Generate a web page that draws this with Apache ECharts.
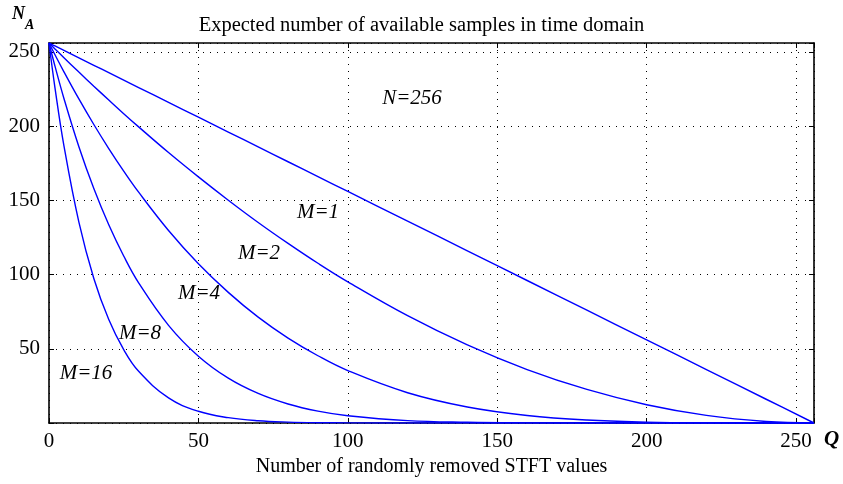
<!DOCTYPE html>
<html>
<head>
<meta charset="utf-8">
<script src="https://cdn.jsdelivr.net/npm/echarts@6/dist/echarts.min.js"></script>
<style>
  html, body { margin: 0; padding: 0; background: #fff; }
  #chart { width: 843px; height: 484px; }
</style>
</head>
<body>
<div id="chart"></div>
<script>
// number of removed STFT values (Q)
const qValues = [0, 2, 5, 10, 15, 20, 25, 30, 40, 50, 60, 70, 80, 90, 100, 120, 140, 160, 180, 200, 220, 240, 256]

// expected available samples N_A
const m1Values = [256, 254, 251, 246, 241, 236, 231, 226, 216, 206, 196, 186, 176, 166, 156, 136, 116, 96, 76, 56, 36, 16, 0]
const m2Values = [256, 252, 246.1, 236.4, 226.9, 217.6, 208.4, 199.5, 182.2, 165.8, 150.1, 135.1, 121, 107.6, 95.1, 72.3, 52.6, 36, 22.6, 12.3, 5.1, 1, 0]
const m4Values = [256, 248.1, 236.6, 218.3, 201.1, 184.9, 169.7, 155.5, 129.7, 107.3, 88, 71.3, 57.2, 45.3, 35.3, 20.4, 10.8, 5.1, 2, 0.6, 0.1, 0, 0]
const m8Values = [256, 240.4, 218.6, 186.1, 157.9, 133.5, 112.5, 94.4, 65.8, 45, 30.2, 19.9, 12.8, 8, 4.9, 1.6, 0.5, 0.1, 0, 0, 0, 0, 0]
const m16Values = [256, 225.8, 186.7, 135.3, 97.4, 69.7, 49.4, 34.8, 16.9, 7.9, 3.6, 1.5, 0.6, 0.2, 0.1, 0, 0, 0, 0, 0, 0, 0, 0]

const seriesNames = ['M=1', 'M=2', 'M=4', 'M=8', 'M=16']
const seriesValues = [m1Values, m2Values, m4Values, m8Values, m16Values]

const xTicks = [0, 50, 100, 150, 200, 250]
const yTicks = [50, 100, 150, 200, 250]

// curve labels (text, pixel centre)
const curveLabels = [
  { text: 'N=256', x: 412, y: 98 },
  { text: 'M=1', x: 318, y: 212 },
  { text: 'M=2', x: 259, y: 253 },
  { text: 'M=4', x: 199, y: 293 },
  { text: 'M=8', x: 140, y: 333 },
  { text: 'M=16', x: 86, y: 373 }
]

const serif = '"Liberation Serif", "DejaVu Serif", serif'
const chart = echarts.init(document.getElementById('chart'))

const boxAxis = (extra) => Object.assign({
  type: 'value',
  min: 0,
  max: 256,
  interval: 50,
  axisLine: { show: true, onZero: false, lineStyle: { color: '#000', width: 1.6 } },
  axisTick: { show: true, inside: true, length: 5, lineStyle: { color: '#000', width: 1 } },
  axisLabel: { show: false },
  splitLine: { show: false }
}, extra)

const option = {
  animation: false,
  backgroundColor: '#fff',
  title: {
    text: 'Expected number of available samples in time domain',
    left: 'center',
    top: 10,
    textStyle: { fontFamily: serif, fontSize: 20.5, fontWeight: 'normal', color: '#000' }
  },
  grid: { left: 49, right: 29, top: 43, bottom: 61, containLabel: false },
  xAxis: [
    boxAxis({
      position: 'bottom',
      name: 'Number of randomly removed STFT values',
      nameLocation: 'middle',
      nameGap: 24,
      nameTextStyle: { fontFamily: serif, fontSize: 20, color: '#000' },
      axisLabel: {
        show: true, margin: 8, fontFamily: serif, fontSize: 21, color: '#000',
        formatter: v => (xTicks.includes(v) ? String(v) : '')
      },
      splitLine: { show: true, lineStyle: { color: '#000', width: 1, type: [1, 6] } }
    }),
    boxAxis({ position: 'top' })
  ],
  yAxis: [
    boxAxis({
      position: 'left',
      axisLabel: {
        show: true, margin: 9, fontFamily: serif, fontSize: 21, color: '#000',
        formatter: v => (yTicks.includes(v) ? String(v) : '')
      },
      splitLine: { show: true, lineStyle: { color: '#000', width: 1, type: [1, 6] } }
    }),
    boxAxis({ position: 'right' })
  ],
  series: seriesNames.map((name, i) => ({
    name: name,
    type: 'line',
    xAxisIndex: 0,
    yAxisIndex: 0,
    data: qValues.map((q, j) => [q, seriesValues[i][j]]),
    showSymbol: false,
    smooth: 0.4,
    lineStyle: { color: '#0000ff', width: 1.4 },
    z: 3
  })),
  graphic: [
    ...curveLabels.map(l => ({
      type: 'text',
      x: l.x,
      y: l.y,
      style: {
        text: l.text,
        font: 'italic 21px ' + serif,
        fill: '#000',
        align: 'center',
        verticalAlign: 'middle'
      }
    })),
    {
      type: 'text', x: 12, y: 14,
      style: { text: 'N', font: 'italic bold 18px ' + serif, fill: '#000', verticalAlign: 'middle' }
    },
    {
      type: 'text', x: 25, y: 25,
      style: { text: 'A', font: 'italic bold 14px ' + serif, fill: '#000', verticalAlign: 'middle' }
    },
    {
      type: 'text', x: 824, y: 440,
      style: { text: 'Q', font: 'italic bold 21px ' + serif, fill: '#000', verticalAlign: 'middle' }
    }
  ]
}

chart.setOption(option)
</script>
</body>
</html>
